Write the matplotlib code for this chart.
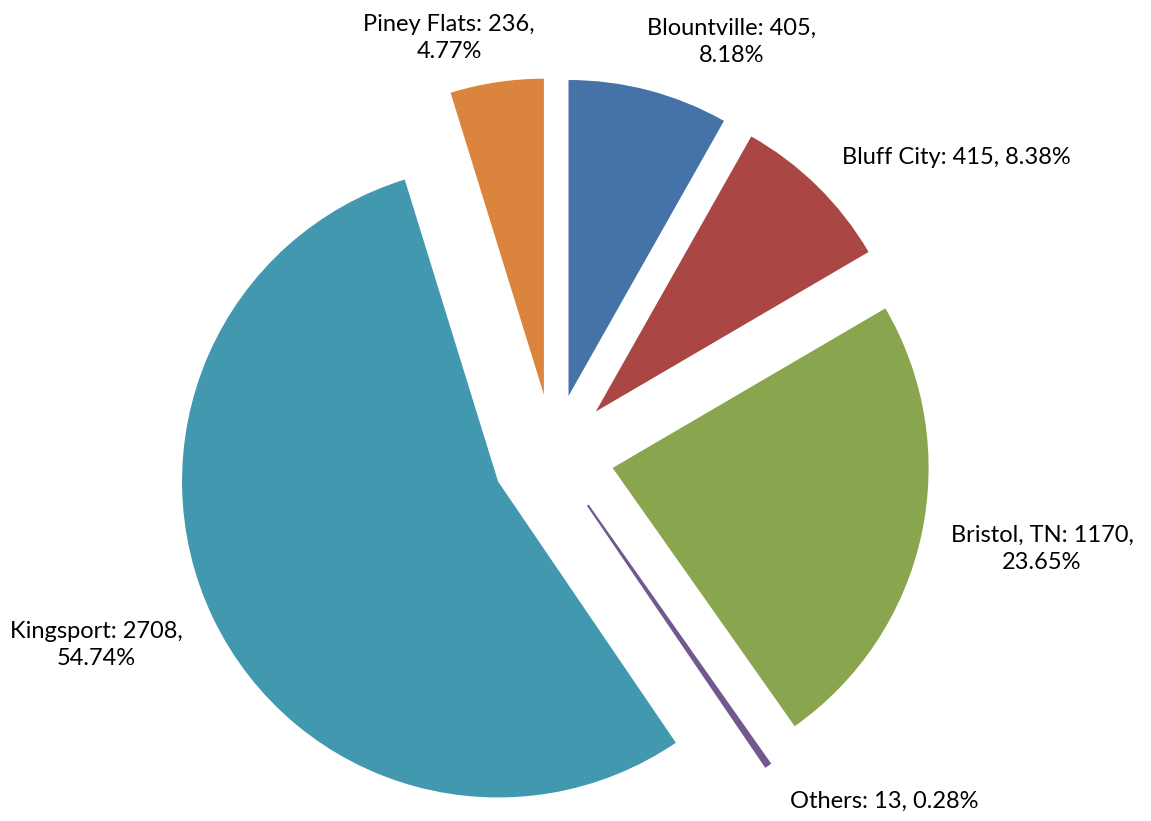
import matplotlib.pyplot as plt

# data
cities = ['Blountville', 'Bluff City', 'Bristol, TN', 'Others', 'Kingsport', 'Piney Flats']
counts = [405, 415, 1170, 13, 2708, 236]
pct_labels = ['8.18%', '8.38%', '23.65%', '0.28%', '54.74%', '4.77%']
colors = ['#4572A7', '#AA4643', '#89A54E', '#71588F', '#4198AF', '#DB843D']

# label text layout (line break or not) and position in pixels of the figure
label_sep = [',\n', ', ', ',\n', ', ', ',\n', ',\n']
label_px = [(732, 42), (956, 158), (1042, 549), (884, 801), (96, 645), (449, 38)]

W, H = 1151, 821
fig = plt.figure(figsize=(W / 100, H / 100), dpi=100)
ax = fig.add_axes([0, 0, 1, 1])

r_px = 316.0
cx, cy = 553.0, 455.0

wedges, _ = ax.pie(counts, startangle=90, counterclock=False,
                   explode=[61 / r_px] * len(counts), colors=colors,
                   radius=1.0, wedgeprops=dict(linewidth=0))
# the tiny slice gets an outline so it shows as a thin line
wedges[3].set_edgecolor('#71588F')
wedges[3].set_linewidth(1.5)

ax.set_xlim(-cx / r_px, (W - cx) / r_px)
ax.set_ylim(-(H - cy) / r_px, cy / r_px)
ax.set_aspect('equal')
ax.axis('off')

for name, n, p, sep, (px, py) in zip(cities, counts, pct_labels, label_sep, label_px):
    fig.text(px / W, 1 - py / H, f'{name}: {n}{sep}{p}',
             ha='center', va='center', multialignment='center',
             fontsize=17, family='Lato', linespacing=1.4, color='#000000')

fig.savefig('out.png', dpi=100)
